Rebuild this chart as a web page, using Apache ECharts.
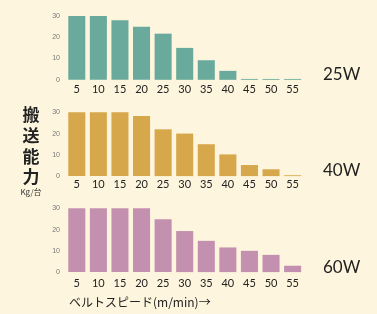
<!DOCTYPE html>
<html><head><meta charset="utf-8">
<script src="https://cdn.jsdelivr.net/npm/echarts@6/dist/echarts.min.js"></script>
<style>html,body{margin:0;padding:0;background:#fdf5dd;}#c{width:377px;height:314px;}</style>
</head><body><div id="c"></div>
<script>
const categories = ['5','10','15','20','25','30','35','40','45','50','55'];
const w25 = [30, 30, 28, 25, 21.7, 15, 9.2, 4.2, 0.4, 0.4, 0.4];
const w40 = [30, 30, 30, 28.3, 22, 20, 15, 10.2, 5.2, 3.2, 0.4];
const w60 = [30, 30, 30, 30, 24.8, 19.3, 14.7, 11.6, 10, 8.1, 3];
const yTicks = [0, 10, 20, 30];
const seriesNames = ['25W', '40W', '60W'];
const colors = ['#69aa9c', '#d7a74c', '#c390af'];
const allData = [w25, w40, w60];
const tops = [16, 112.3, 208.3];
const labelMargins = [4, 3, 6];

const chart = echarts.init(document.getElementById('c'));
const grids = [], xAxes = [], yAxes = [], series = [];
allData.forEach((d, i) => {
  grids.push({left: 66, right: 73.6, top: tops[i], height: 63.8});
  xAxes.push({type: 'category', gridIndex: i, data: categories,
    axisLine: {show: false}, axisTick: {show: false},
    axisLabel: {color: '#222', fontSize: 11, fontFamily: 'Lato', margin: labelMargins[i], interval: 0}});
  yAxes.push({type: 'value', gridIndex: i, min: yTicks[0], max: yTicks[yTicks.length - 1], interval: 10,
    splitLine: {show: false}, axisLine: {show: false}, axisTick: {show: false},
    axisLabel: {color: '#777', fontSize: 7, margin: 6, padding: [0, 0, 4, 0]}});
  series.push({type: 'bar', name: seriesNames[i], xAxisIndex: i, yAxisIndex: i, data: d,
    barCategoryGap: '21%', itemStyle: {color: colors[i]}, silent: true});
});

chart.setOption({
  backgroundColor: '#fdf5dd',
  animation: false,
  grid: grids, xAxis: xAxes, yAxis: yAxes, series: series,
  graphic: [
    {type: 'text', left: 323, top: 66, style: {text: '25W', fontSize: 17, fontFamily: 'Lato', fill: '#222'}},
    {type: 'text', left: 323, top: 162, style: {text: '40W', fontSize: 17, fontFamily: 'Lato', fill: '#222'}},
    {type: 'text', left: 323, top: 259, style: {text: '60W', fontSize: 17, fontFamily: 'Lato', fill: '#222'}},
    {type: 'text', x: 31, y: 115, style: {text: '搬', fontSize: 17, fontWeight: 'bold', fontFamily: 'Noto Sans CJK JP', fill: '#222', align: 'center', verticalAlign: 'middle'}},
    {type: 'text', x: 31, y: 136, style: {text: '送', fontSize: 17, fontWeight: 'bold', fontFamily: 'Noto Sans CJK JP', fill: '#222', align: 'center', verticalAlign: 'middle'}},
    {type: 'text', x: 31, y: 157, style: {text: '能', fontSize: 17, fontWeight: 'bold', fontFamily: 'Noto Sans CJK JP', fill: '#222', align: 'center', verticalAlign: 'middle'}},
    {type: 'text', x: 31, y: 177, style: {text: '力', fontSize: 17, fontWeight: 'bold', fontFamily: 'Noto Sans CJK JP', fill: '#222', align: 'center', verticalAlign: 'middle'}},
    {type: 'text', x: 31, y: 192, style: {text: 'Kg/台', fontSize: 8, fontFamily: 'Noto Sans CJK JP', fill: '#333', align: 'center', verticalAlign: 'middle'}},
    {type: 'text', x: 69, y: 302, style: {text: 'ベルトスピード(m/min)→', fontSize: 12, fontFamily: 'Noto Sans CJK JP', fill: '#222', verticalAlign: 'middle'}}
  ]
});
</script></body></html>
